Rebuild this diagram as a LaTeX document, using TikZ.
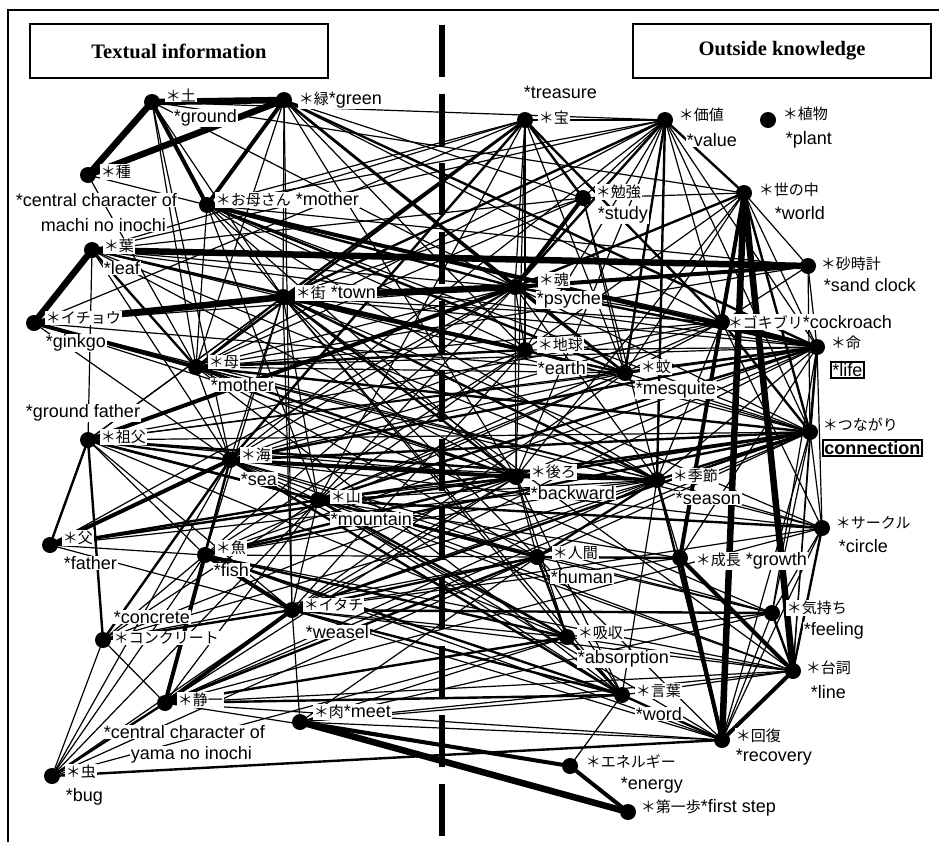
\documentclass[tikz,border=0pt]{standalone}
\usepackage{fontspec}
\setmainfont{Liberation Sans}
\newfontfamily\jpfont{Noto Sans CJK JP}
\newfontfamily\headfont{Liberation Serif}
\newcommand{\jp}[1]{{\jpfont\fontsize{15}{17}\selectfont #1}}

\tikzset{
  dot/.style={fill=black},
  lbl/.style={anchor=west,inner sep=0.75pt,fill=white,font=\fontsize{18}{20}\selectfont},
  boxlbl/.style={lbl,draw=black,line width=1.5pt,inner sep=1.5pt},
  head/.style={draw=black,line width=1.2pt,minimum width=298pt,minimum height=54pt,
    font=\headfont\bfseries\fontsize{20.5}{23}\selectfont},
  e1/.style={line width=1.2pt},
  e2/.style={line width=2.4pt},
  e3/.style={line width=4pt},
  e4/.style={line width=6.5pt},
}

\begin{document}
\begin{tikzpicture}[x=1pt,y=1pt,yscale=-1]
\useasboundingbox (0,0) rectangle (939,841);
% frame and divider
\draw[line width=2.5pt] (8,845) -- (8,10) -- (945,10);
\draw[line width=6pt,dash pattern=on 52pt off 17pt] (442,25) -- (442,841);
\node[head] (textual) at (179,51) {Textual information};
\node[head] (outside) at (782,51) {Outside knowledge};

% textual information
\coordinate (tsuchi) at (152,102);
\coordinate (midori) at (284,100);
\coordinate (tane) at (88,175);
\coordinate (okaasan) at (207,205);
\coordinate (ha) at (92,250);
\coordinate (machi) at (283,297);
\coordinate (icho) at (34,323);
\coordinate (haha) at (196,367);
\coordinate (sofu) at (88,440);
\coordinate (umi) at (230,460);
\coordinate (yama) at (318,500);
\coordinate (chichi) at (50,545);
\coordinate (sakana) at (205,555);
\coordinate (concrete) at (103,640);
\coordinate (itachi) at (292,610);
\coordinate (seiichi) at (165,703);
\coordinate (niku) at (300,722);
\coordinate (mushi) at (52,776);
% outside knowledge
\coordinate (takara) at (525,120);
\coordinate (kachi) at (665,120);
\coordinate (shokubutsu) at (768,120);
\coordinate (benkyo) at (583,198);
\coordinate (yononaka) at (744,193);
\coordinate (sunadokei) at (808,266);
\coordinate (tamashii) at (515,287);
\coordinate (gokiburi) at (722,322);
\coordinate (inochi) at (817,347);
\coordinate (chikyu) at (525,350);
\coordinate (ka) at (625,373);
\coordinate (tsunagari) at (810,432);
\coordinate (ushiro) at (516,477);
\coordinate (kisetsu) at (657,480);
\coordinate (circle) at (822,528);
\coordinate (ningen) at (537,557);
\coordinate (seicho) at (680,558);
\coordinate (kimochi) at (772,613);
\coordinate (kyushu) at (567,637);
\coordinate (serifu) at (793,671);
\coordinate (kotoba) at (622,695);
\coordinate (kaifuku) at (722,740);
\coordinate (energy) at (570,766);
\coordinate (ippo) at (628,812);

% thin links
\foreach \a/\b in {takara/kachi, takara/tamashii, takara/ushiro, takara/chikyu, takara/ka, takara/yama,
  takara/okaasan, takara/ha, takara/icho, takara/sofu, kachi/chikyu, kachi/gokiburi, kachi/inochi,
  kachi/tsunagari, kachi/ha, kachi/haha, kachi/ushiro, kachi/benkyo, kachi/umi, benkyo/yononaka,
  benkyo/machi, benkyo/ha, benkyo/ka, benkyo/kisetsu, benkyo/haha, yononaka/ka, yononaka/chikyu,
  yononaka/sunadokei, yononaka/ushiro, yononaka/inochi, sunadokei/inochi, sunadokei/gokiburi,
  sunadokei/tsunagari, tamashii/gokiburi, tamashii/tsunagari, tamashii/chikyu, tamashii/ushiro,
  tamashii/kisetsu, gokiburi/circle, gokiburi/ka, gokiburi/kisetsu, inochi/circle, inochi/chikyu,
  inochi/ushiro, inochi/kisetsu, inochi/serifu, inochi/kimochi, inochi/seicho, tsunagari/circle,
  tsunagari/ningen, tsunagari/serifu, tsunagari/kimochi, tsunagari/kaifuku, tsunagari/ka,
  tsunagari/chikyu, ushiro/ningen, ushiro/kotoba, ushiro/kyushu, kisetsu/seicho, kisetsu/kotoba,
  kisetsu/circle, circle/kimochi, circle/kaifuku, ningen/kotoba, ningen/kaifuku, kimochi/kaifuku,
  kimochi/kyushu, kimochi/ningen, kyushu/serifu, kotoba/serifu, kotoba/energy,
  midori/machi, midori/itachi, midori/chikyu, midori/gokiburi, midori/benkyo, midori/ushiro,
  midori/haha, tsuchi/machi, tsuchi/haha, tsuchi/umi, tsuchi/tamashii, tsuchi/yononaka, tsuchi/kachi,
  tane/haha, tane/okaasan, okaasan/chikyu, okaasan/ushiro, okaasan/kisetsu, okaasan/sunadokei,
  okaasan/kachi, okaasan/machi, okaasan/haha, okaasan/yama, ha/machi, ha/tamashii, ha/ka, ha/umi,
  ha/inochi, ha/sofu, icho/ushiro, icho/umi, icho/tamashii, machi/tsunagari, machi/inochi,
  machi/gokiburi, machi/ningen, machi/kotoba, machi/kyushu, machi/haha, machi/umi, machi/yama,
  machi/sakana, machi/itachi, machi/sofu, haha/tamashii, haha/ka, haha/ningen, haha/kisetsu,
  haha/inochi, haha/kotoba, haha/umi, sofu/tsunagari, sofu/ushiro, sofu/inochi, sofu/itachi,
  sofu/kyushu, sofu/sakana, umi/kisetsu, umi/ningen, umi/kyushu, umi/yama, umi/sakana, umi/chikyu,
  umi/gokiburi, umi/circle, yama/ushiro, yama/kisetsu, yama/kotoba, yama/seicho, yama/serifu,
  yama/kaifuku, yama/itachi, yama/chikyu, yama/ka, sakana/kisetsu, sakana/ningen, sakana/serifu,
  sakana/kaifuku, sakana/concrete, sakana/inochi, chichi/sakana, chichi/itachi, concrete/seiichi,
  concrete/mushi, concrete/yama, concrete/ningen, itachi/kyushu, itachi/kaifuku, itachi/serifu,
  itachi/inochi, itachi/ushiro, itachi/kisetsu, itachi/circle, itachi/seicho, itachi/niku,
  seiichi/yama, seiichi/kaifuku, seiichi/serifu, seiichi/tsunagari, seiichi/energy, niku/kotoba,
  niku/kyushu, niku/kaifuku, niku/serifu, mushi/itachi, mushi/sakana, mushi/umi, mushi/yama,
  haha/gokiburi, haha/sunadokei, sofu/gokiburi, sofu/ka, umi/ka, umi/tamashii, yama/tamashii,
  yama/gokiburi, sakana/tamashii, sakana/chikyu, sakana/ka, chichi/tamashii, chichi/kisetsu,
  concrete/ushiro, concrete/kisetsu, itachi/chikyu, itachi/ka, seiichi/ushiro, seiichi/kisetsu,
  seiichi/circle, niku/ningen, niku/kimochi, mushi/ningen, mushi/kyushu, icho/kisetsu, icho/ka,
  ha/ushiro, ha/kisetsu, okaasan/gokiburi, okaasan/tsunagari, machi/circle, machi/serifu,
  haha/circle, haha/kimochi, umi/serifu, umi/kimochi, yama/kimochi}
  \draw[e1] (\a) -- (\b);
% medium links
\foreach \a/\b in {machi/ka, machi/ushiro, machi/kisetsu, haha/chikyu, haha/ushiro, haha/tsunagari,
  sofu/umi, sofu/yama, sofu/kisetsu, sofu/ningen, umi/tsunagari, umi/inochi, umi/kotoba, yama/inochi,
  yama/tsunagari, yama/ningen, yama/kyushu, yama/circle, sakana/ushiro, sakana/kotoba,
  sakana/tsunagari, sakana/kyushu, chichi/yama, chichi/ushiro, concrete/itachi, concrete/umi,
  itachi/ningen, itachi/kotoba, itachi/kimochi, itachi/tsunagari, seiichi/kotoba, seiichi/kyushu,
  seiichi/ningen, seiichi/umi, mushi/kaifuku, mushi/seiichi, okaasan/tamashii, okaasan/ka,
  ha/chikyu, ha/haha, takara/machi, takara/haha, takara/umi, takara/benkyo, takara/gokiburi,
  kachi/tamashii, kachi/ka, kachi/yononaka, kachi/kisetsu, kachi/machi, yononaka/gokiburi,
  yononaka/tsunagari, yononaka/tamashii, tamashii/inochi, tamashii/ka, gokiburi/tsunagari,
  inochi/tsunagari, inochi/ka, tsunagari/ushiro, tsunagari/kisetsu, kisetsu/ningen, ushiro/kisetsu,
  ningen/kyushu, kyushu/kotoba, kotoba/kaifuku, circle/serifu, kimochi/serifu, midori/tamashii,
  midori/ka, midori/inochi, sofu/chichi, sofu/concrete, kisetsu/kaifuku, ningen/seicho}
  \draw[e2] (\a) -- (\b);
% strong links
\foreach \a/\b in {tsuchi/okaasan, midori/okaasan, okaasan/inochi, icho/haha, tamashii/sunadokei,
  yononaka/seicho, seicho/kaifuku, seicho/serifu, kaifuku/serifu, niku/energy, energy/ippo,
  seiichi/itachi, itachi/sakana, tamashii/benkyo, chichi/umi, gokiburi/inochi, seiichi/sakana,
  sofu/tamashii, umi/ushiro, machi/chikyu}
  \draw[e3] (\a) -- (\b);
\foreach \a/\b in {ha/sunadokei, tsuchi/midori, tane/tsuchi, tane/midori, yononaka/kaifuku,
  niku/ippo, icho/machi, ha/icho, machi/tamashii, yononaka/serifu}
  \draw[e4] (\a) -- (\b);

% labels, textual side
\node[lbl] (tsuchiJ) at (165,95) {\jp{＊土}};
\node[lbl] (tsuchiE) at (173,118) {*ground};
\node[lbl] (midoriL) at (298,100) {\jp{＊緑}*green};
\node[lbl] (taneJ) at (100,172) {\jp{＊種}};
\node[lbl] (taneE) at (15,200) {*central character of};
\node[lbl] (taneF) at (40,225) {machi no inochi};
\node[lbl] (okaasanL) at (215,200) {\jp{＊お母さん} *mother};
\node[lbl] (haJ) at (103,246) {\jp{＊葉}};
\node[lbl] (haE) at (103,268) {*leaf};
\node[lbl] (machiL) at (295,293) {\jp{＊街} *town};
\node[lbl] (ichoJ) at (45,318) {\jp{＊イチョウ}};
\node[lbl] (ichoE) at (45,343) {*ginkgo};
\node[lbl] (hahaJ) at (208,362) {\jp{＊母}};
\node[lbl] (hahaE) at (210,385) {*mother};
\node[lbl] (sofuE) at (25,413) {*ground father};
\node[lbl] (sofuJ) at (100,437) {\jp{＊祖父}};
\node[lbl] (umiJ) at (240,455) {\jp{＊海}};
\node[lbl] (umiE) at (240,479) {*sea};
\node[lbl] (yamaJ) at (330,497) {\jp{＊山}};
\node[lbl] (yamaE) at (330,519) {*mountain};
\node[lbl] (chichiJ) at (62,538) {\jp{＊父}};
\node[lbl] (chichiE) at (63,563) {*father};
\node[lbl] (sakanaJ) at (215,548) {\jp{＊魚}};
\node[lbl] (sakanaE) at (213,570) {*fish};
\node[lbl] (concreteE) at (113,617) {*concrete};
\node[lbl] (concreteJ) at (113,638) {\jp{＊コンクリート}};
\node[lbl] (itachiJ) at (303,605) {\jp{＊イタチ}};
\node[lbl] (itachiE) at (305,632) {*weasel};
\node[lbl] (seiichiJ) at (177,700) {\jp{＊静一}};
\node[lbl] (seiichiE) at (103,732) {*central character of};
\node[lbl] (seiichiF) at (130,755) {yama no inochi};
\node[lbl] (nikuL) at (313,712) {\jp{＊肉}*meet};
\node[lbl] (mushiJ) at (65,772) {\jp{＊虫}};
\node[lbl] (mushiE) at (65,797) {*bug};
% labels, outside side
\node[lbl] (takaraE) at (523,92) {*treasure};
\node[lbl] (takaraJ) at (538,118) {\jp{＊宝}};
\node[lbl] (kachiJ) at (678,115) {\jp{＊価値}};
\node[lbl] (kachiE) at (686,140) {*value};
\node[lbl] (shokubutsuJ) at (782,114) {\jp{＊植物}};
\node[lbl] (shokubutsuE) at (785,140) {*plant};
\node[lbl] (benkyoJ) at (595,192) {\jp{＊勉強}};
\node[lbl] (benkyoE) at (597,215) {*study};
\node[lbl] (yononakaJ) at (758,190) {\jp{＊世の中}};
\node[lbl] (yononakaE) at (774,213) {*world};
\node[lbl] (sunadokeiJ) at (820,264) {\jp{＊砂時計}};
\node[lbl] (sunadokeiE) at (823,285) {*sand clock};
\node[lbl] (tamashiiJ) at (538,280) {\jp{＊魂}};
\node[lbl] (tamashiiE) at (536,300) {*psyche};
\node[lbl] (gokiburiL) at (727,322) {\jp{＊ゴキブリ}*cockroach};
\node[lbl] (inochiJ) at (830,343) {\jp{＊命}};
\node[boxlbl] (inochiE) at (830,370) {*life};
\node[lbl] (chikyuJ) at (537,345) {\jp{＊地球}};
\node[lbl] (chikyuE) at (537,368) {*earth};
\node[lbl] (kaJ) at (640,367) {\jp{＊蚊}};
\node[lbl] (kaE) at (635,390) {*mesquite};
\node[lbl] (tsunagariJ) at (822,425) {\jp{＊つながり}};
\node[boxlbl,font=\bfseries\fontsize{18}{20}\selectfont] (tsunagariE) at (822,448) {connection};
\node[lbl] (ushiroJ) at (530,472) {\jp{＊後ろ}};
\node[lbl] (ushiroE) at (530,493) {*backward};
\node[lbl] (kisetsuJ) at (672,476) {\jp{＊季節}};
\node[lbl] (kisetsuE) at (675,498) {*season};
\node[lbl] (circleJ) at (835,523) {\jp{＊サークル}};
\node[lbl] (circleE) at (838,546) {*circle};
\node[lbl] (ningenJ) at (552,553) {\jp{＊人間}};
\node[lbl] (ningenE) at (550,577) {*human};
\node[lbl] (seichoL) at (695,561) {\jp{＊成長} *growth};
\node[lbl] (kimochiJ) at (786,608) {\jp{＊気持ち}};
\node[lbl] (kimochiE) at (803,631) {*feeling};
\node[lbl] (kyushuJ) at (577,633) {\jp{＊吸収}};
\node[lbl] (kyushuE) at (577,659) {*absorption};
\node[lbl] (serifuJ) at (805,668) {\jp{＊台詞}};
\node[lbl] (serifuE) at (810,692) {*line};
\node[lbl] (kotobaJ) at (635,691) {\jp{＊言葉}};
\node[lbl] (kotobaE) at (635,714) {*word};
\node[lbl] (kaifukuJ) at (735,736) {\jp{＊回復}};
\node[lbl] (kaifukuE) at (735,757) {*recovery};
\node[lbl] (energyJ) at (585,762) {\jp{＊エネルギー}};
\node[lbl] (energyE) at (620,785) {*energy};
\node[lbl] (ippoL) at (640,808) {\jp{＊第一歩}*first step};

% dots
\foreach \n in {tsuchi, midori, tane, okaasan, ha, machi, icho, haha, sofu, umi, yama, chichi,
  sakana, concrete, itachi, seiichi, niku, mushi, takara, kachi, shokubutsu, benkyo, yononaka,
  sunadokei, tamashii, gokiburi, inochi, chikyu, ka, tsunagari, ushiro, kisetsu, circle, ningen,
  seicho, kimochi, kyushu, serifu, kotoba, kaifuku, energy, ippo}
  \fill[dot] (\n) circle (8);
\end{tikzpicture}
\end{document}
